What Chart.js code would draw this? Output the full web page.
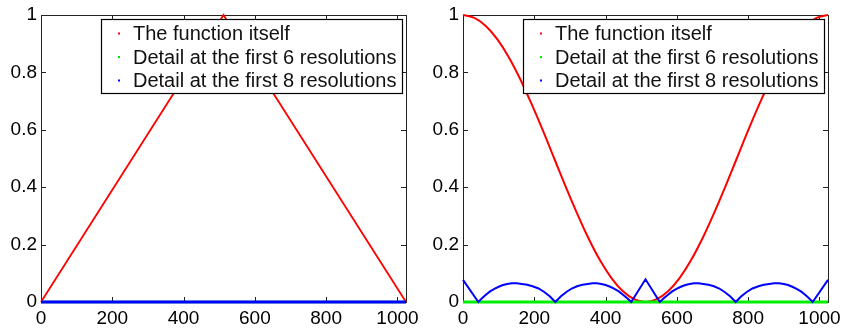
<!DOCTYPE html>
<html>
<head>
<meta charset="utf-8">
<script src="https://cdn.jsdelivr.net/npm/chart.js@4"></script>
<style>
  html, body { margin: 0; padding: 0; background: #fff; }
  .panel { position: absolute; top: 0; width: 422px; height: 331px; }
  #leftPanel { left: 0; }
  #rightPanel { left: 422px; }
</style>
</head>
<body>
<div class="panel" id="leftPanel"><canvas id="leftChart" width="422" height="331"></canvas></div>
<div class="panel" id="rightPanel"><canvas id="rightChart" width="422" height="331"></canvas></div>
<script>
// tick values
const xTicks = [0, 200, 400, 600, 800, 1000];
const yTicks = [0, 0.2, 0.4, 0.6, 0.8, 1];
const yTickLabels = ['0', '0.2', '0.4', '0.6', '0.8', '1'];

const seriesLabels = ['The function itself', 'Detail at the first 6 resolutions', 'Detail at the first 8 resolutions'];
const seriesColors = ['#ff0000', '#00ee00', '#0000ff'];

// left panel: triangle
const leftX = [0, 512, 1024];
const leftFunction = [0, 1, 0];
const leftDetail6X = [0, 1024];
const leftDetail6 = [0, 0];
const leftDetail8X = [0, 1024];
const leftDetail8 = [0, 0];

// right panel: smooth bowl
const rightX = [0, 32, 64, 96, 128, 160, 192, 224, 256, 288, 320, 352, 384, 416, 448, 480, 512,
                544, 576, 608, 640, 672, 704, 736, 768, 800, 832, 864, 896, 928, 960, 992, 1024];
const rightFunction = [1, 0.99, 0.962, 0.916, 0.854, 0.778, 0.691, 0.598, 0.5, 0.402, 0.309, 0.222, 0.146, 0.084, 0.038, 0.01, 0,
                       0.01, 0.038, 0.084, 0.146, 0.222, 0.309, 0.402, 0.5, 0.598, 0.691, 0.778, 0.854, 0.916, 0.962, 0.99, 1];
const rightDetail6X = [0, 256, 512, 768, 1024];
const rightDetail6 = [0, 0, 0, 0, 0];
const rightDetail8X = [0, 43, 54, 65, 76, 88, 100, 112, 124, 137, 151, 165, 180, 195, 212, 228, 244, 259,
                       274, 290, 305, 320, 335, 350, 363, 376, 388, 400, 413, 425, 437, 448, 460, 472, 512,
                       552, 564, 576, 587, 599, 611, 624, 636, 648, 661, 674, 689, 704, 719, 734, 750, 765,
                       780, 796, 812, 829, 844, 859, 873, 887, 900, 912, 924, 936, 948, 959, 970, 981, 1024];
const rightDetail8 = [0.077, 0, 0.014, 0.026, 0.037, 0.046, 0.053, 0.059, 0.063, 0.065, 0.065, 0.063, 0.06, 0.055, 0.047, 0.035, 0.019, 0,
                      0.019, 0.035, 0.047, 0.055, 0.06, 0.063, 0.065, 0.065, 0.063, 0.059, 0.053, 0.046, 0.037, 0.026, 0.014, 0, 0.079,
                      0, 0.014, 0.026, 0.037, 0.046, 0.053, 0.059, 0.063, 0.065, 0.065, 0.063, 0.06, 0.055, 0.047, 0.035, 0.019, 0,
                      0.019, 0.035, 0.047, 0.055, 0.06, 0.063, 0.065, 0.065, 0.063, 0.059, 0.053, 0.046, 0.037, 0.026, 0.014, 0, 0.077];

const FONT = "'Liberation Sans', Arial, Helvetica, sans-serif";

function pts(xs, ys) {
    return xs.map(function (x, i) { return { x: x, y: ys[i] }; });
}

// box, inward ticks on all four sides
const framePlugin = {
    id: 'frame',
    beforeDatasetsDraw(chart) {
        const ctx = chart.ctx;
        const a = chart.chartArea;
        const xs = chart.scales.x, ys = chart.scales.y;
        const tl = 5;
        ctx.save();
        ctx.strokeStyle = '#222';
        ctx.lineWidth = 1;
        ctx.beginPath();
        xTicks.forEach(function (v) {
            const px = Math.round(xs.getPixelForValue(v)) + 0.5;
            ctx.moveTo(px, a.bottom); ctx.lineTo(px, a.bottom - tl);
            ctx.moveTo(px, a.top); ctx.lineTo(px, a.top + tl);
        });
        yTicks.forEach(function (v) {
            const py = Math.round(ys.getPixelForValue(v)) + 0.5;
            ctx.moveTo(a.left, py); ctx.lineTo(a.left + tl, py);
            ctx.moveTo(a.right, py); ctx.lineTo(a.right - tl, py);
        });
        ctx.stroke();
        ctx.strokeRect(Math.round(a.left) + 0.5, Math.round(a.top) + 0.5,
                       Math.round(a.right - a.left), Math.round(a.bottom - a.top));
        ctx.restore();
    }
};

// legend box in the top right of the axes
const legendPlugin = {
    id: 'boxLegend',
    afterDatasetsDraw(chart) {
        const ctx = chart.ctx;
        const a = chart.chartArea;
        const w = 301, h = 74;
        const x0 = Math.round(a.right - 4 - w), y0 = Math.round(a.top + 4);
        ctx.save();
        ctx.fillStyle = '#fff';
        ctx.fillRect(x0, y0, w, h);
        ctx.strokeStyle = '#000';
        ctx.lineWidth = 1.2;
        ctx.strokeRect(x0 + 0.5, y0 + 0.5, w, h);
        ctx.font = '20px ' + FONT;
        ctx.textBaseline = 'middle';
        ctx.textAlign = 'left';
        seriesLabels.forEach(function (lab, i) {
            const cy = y0 + 14.5 + i * 23.5;
            ctx.fillStyle = seriesColors[i];
            ctx.fillRect(x0 + 17, cy - 1, 2, 2);
            ctx.fillStyle = '#111';
            ctx.fillText(lab, x0 + 32, cy + 1);
        });
        ctx.restore();
    }
};

function makeChart(id, sets) {
    return new Chart(document.getElementById(id), {
        type: 'scatter',
        data: {
            datasets: sets.map(function (s, i) {
                return {
                    label: seriesLabels[i],
                    data: pts(s.x, s.y),
                    showLine: true,
                    borderColor: seriesColors[i],
                    backgroundColor: seriesColors[i],
                    borderWidth: s.w,
                    pointRadius: 0,
                    tension: 0,
                    cubicInterpolationMode: s.smooth ? 'monotone' : 'default',
                    clip: 6,
                    order: 3 - i
                };
            })
        },
        options: {
            responsive: false,
            animation: false,
            layout: { padding: { top: 15, right: 16, left: 0, bottom: 0 } },
            plugins: { legend: { display: false }, tooltip: { enabled: false } },
            scales: {
                x: {
                    type: 'linear', min: 0, max: 1024,
                    grid: { display: false, drawTicks: false, tickLength: 0 },
                    border: { display: false },
                    afterFit: function (s) {
                        s.height = 29;
                        s.paddingLeft = 0;
                        s.paddingRight = 0;
                    },
                    afterBuildTicks: function (s) { s.ticks = xTicks.map(function (v) { return { value: v }; }); },
                    ticks: {
                        padding: 5,
                        color: '#000',
                        maxRotation: 0,
                        font: { family: FONT, size: 19 },
                        callback: function (v) { return String(v); }
                    }
                },
                y: {
                    type: 'linear', min: 0, max: 1,
                    grid: { display: false, drawTicks: false, tickLength: 0 },
                    border: { display: false },
                    afterFit: function (s) {
                        s.width = 41;
                        s.paddingTop = 0;
                        s.paddingBottom = 0;
                    },
                    afterBuildTicks: function (s) { s.ticks = yTicks.map(function (v) { return { value: v }; }); },
                    ticks: {
                        padding: 4,
                        color: '#000',
                        font: { family: FONT, size: 19 },
                        callback: function (v) { return yTickLabels[yTicks.indexOf(v)]; }
                    }
                }
            }
        },
        plugins: [framePlugin, legendPlugin]
    });
}

makeChart('leftChart', [
    { x: leftX, y: leftFunction, w: 1.8 },
    { x: leftDetail6X, y: leftDetail6, w: 2.5 },
    { x: leftDetail8X, y: leftDetail8, w: 3 }
]);

makeChart('rightChart', [
    { x: rightX, y: rightFunction, w: 2, smooth: true },
    { x: rightDetail6X, y: rightDetail6, w: 3 },
    { x: rightDetail8X, y: rightDetail8, w: 2 }
]);
</script>
</body>
</html>
